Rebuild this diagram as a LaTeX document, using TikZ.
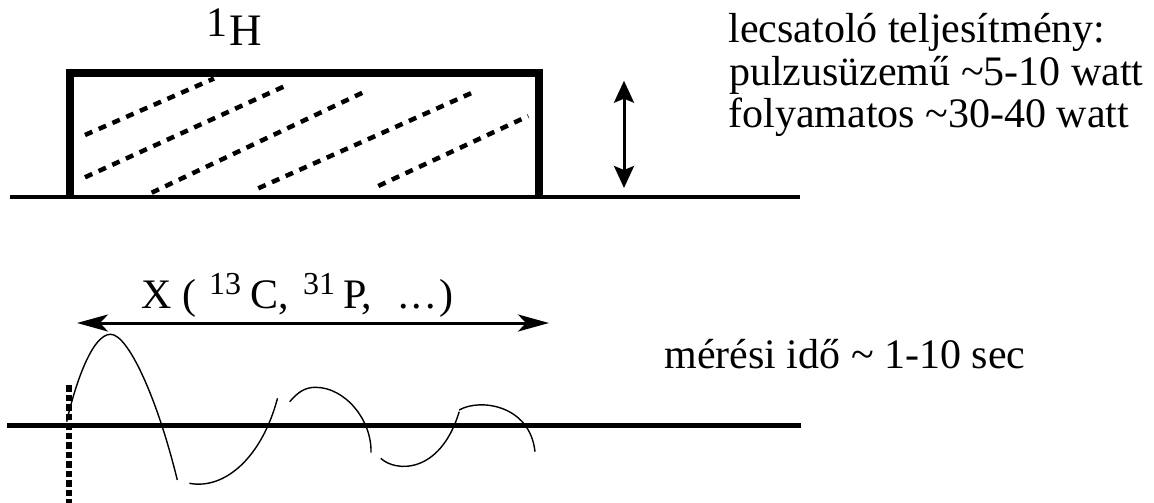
\documentclass[tikz,border=0pt]{standalone}
\usepackage{fontspec}
\setmainfont{Liberation Serif}
\usetikzlibrary{arrows.meta}
\begin{document}
\begin{tikzpicture}[x=1pt,y=-1pt,
  txt/.style={font=\fontsize{42}{42}\selectfont, inner sep=0pt, outer sep=0pt, anchor=base west},
  suptxt/.style={font=\fontsize{32}{32}\selectfont, inner sep=0pt, outer sep=0pt, anchor=base west},
  ground/.style={line width=4.5pt},
  boxline/.style={line width=8pt, line join=miter},
  hatch/.style={line width=4.5pt, dash pattern=on 8pt off 7pt},
  marker/.style={line width=5.5pt, dash pattern=on 6.5pt off 3pt},
  wave/.style={line width=1.4pt},
  vdim/.style={line width=3pt, {Stealth[length=22pt,width=20pt,inset=4pt]}-{Stealth[length=22pt,width=20pt,inset=4pt]}},
  hdim/.style={line width=3pt, {Stealth[length=31pt,width=17pt,inset=8pt]}-{Stealth[length=31pt,width=17pt,inset=8pt]}}
]
\useasboundingbox (0,0) rectangle (1154,503);

% upper part: 1H pulse
\draw[ground] (10,197) -- (800,197);
\draw[boxline] (70,195) -- (70,73.5) -- (539,73.5) -- (539,195);
\draw[hatch] (85,135) -- (214,78.5);
\draw[hatch] (85,177.3) -- (285,86);
\draw[hatch] (151.7,192.7) -- (366.7,90.7);
\draw[hatch] (258.3,188.3) -- (476.7,90.7);
\draw[hatch] (378.3,186) -- (528.3,116);

\node[txt] (hone) at (206.5,36.7) {1};
\node[txt, font=\fontsize{45}{45}\selectfont] (hH) at (229.5,45.5) {H};

\coordinate (vtop) at (624,80.7);
\coordinate (vbot) at (624,188);
\draw[vdim] (vtop) -- (vbot);

\node[txt] (l1) at (728.5,43) {lecsatoló teljesítmény:};
\node[txt] (l2) at (729,85.5) {pulzusüzemű \symbol{126}5-10 watt};
\node[txt] (l3) at (728.5,127) {folyamatos \symbol{126}30-40 watt};

% lower part: X signal
\node[txt] (xx) at (141.3,308.3) {X (};
\node[suptxt] (s13) at (209,294) {13};
\node[txt] (cc) at (250,308.3) {C,};
\node[suptxt] (s31) at (303,294) {31};
\node[txt] (pp) at (343,308.3) {P,};
\node[txt] (dots) at (398,308.3) {.\hspace{3.5pt}.\hspace{3.5pt}.};
\node[txt] (rp) at (439,308.3) {)};

\coordinate (hl) at (77,323);
\coordinate (hr) at (549,323);
\draw[hdim] (hl) -- (hr);

\draw[ground] (7,425.7) -- (801,425.7);
\draw[marker] (69,385) -- (69,503);

\draw[wave] (66.7,421.7) .. controls (75,385) and (92,334) .. (110.7,334.3)
  .. controls (128,334.5) and (157,397) .. (177.3,480);
\draw[wave] (189.4,483.3) .. controls (225,490) and (262,457) .. (277.5,398.3);
\draw[wave] (289.7,401.7) .. controls (298,392) and (305,387.5) .. (315,387.3)
  .. controls (345,387) and (372,420) .. (371,452.7);
\draw[wave] (380.8,458.3) .. controls (395,472) and (440,475) .. (459.2,411.7);
\draw[wave] (459.2,410) .. controls (480,398) and (530,405) .. (535,451.7);

\node[txt] (meres) at (664.5,368) {mérési idő \symbol{126} 1-10 sec};
\end{tikzpicture}
\end{document}
